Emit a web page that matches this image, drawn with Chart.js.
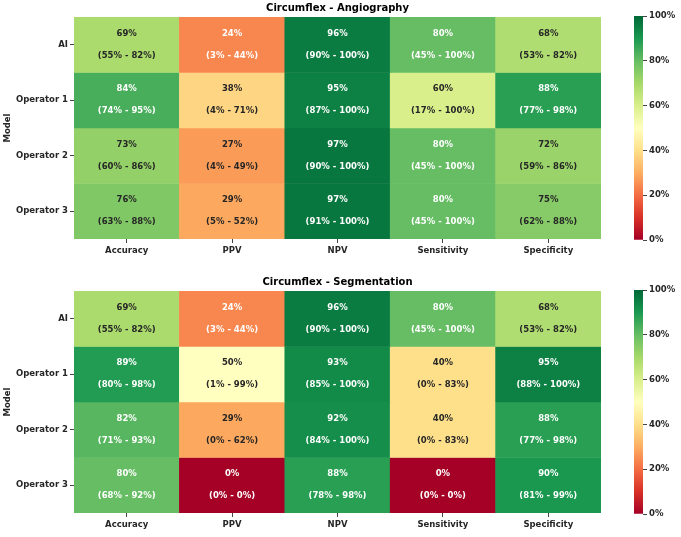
<!DOCTYPE html>
<html>
<head>
<meta charset="utf-8">
<script src="https://cdn.jsdelivr.net/npm/chart.js@4.4.0/dist/chart.umd.min.js"></script>
<style>
body { margin: 0; background: #fff; width: 681px; height: 537px; position: relative; overflow: hidden; }
canvas { position: absolute; }
</style>
</head>
<body>
<canvas id="angio" width="605" height="262" style="left:0;top:0"></canvas>
<canvas id="angioBar" width="51" height="262" style="left:630px;top:0"></canvas>
<canvas id="seg" width="605" height="262" style="left:0;top:274px"></canvas>
<canvas id="segBar" width="51" height="262" style="left:630px;top:274px"></canvas>
<script>
const metrics = ['Accuracy', 'PPV', 'NPV', 'Sensitivity', 'Specificity'];
const models = ['AI', 'Operator 1', 'Operator 2', 'Operator 3'];

// Circumflex - Angiography (rows = models, cols = metrics)
const angioValues = [[69, 24, 96, 80, 68], [84, 38, 95, 60, 88], [73, 27, 97, 80, 72], [76, 29, 97, 80, 75]];
const angioLower = [[55, 3, 90, 45, 53], [74, 4, 87, 17, 77], [60, 4, 90, 45, 59], [63, 5, 91, 45, 62]];
const angioUpper = [[82, 44, 100, 100, 82], [95, 71, 100, 100, 98], [86, 49, 100, 100, 86], [88, 52, 100, 100, 88]];

// Circumflex - Segmentation
const segValues = [[69, 24, 96, 80, 68], [89, 50, 93, 40, 95], [82, 29, 92, 40, 88], [80, 0, 88, 0, 90]];
const segLower = [[55, 3, 90, 45, 53], [80, 1, 85, 0, 88], [71, 0, 84, 0, 77], [68, 0, 78, 0, 81]];
const segUpper = [[82, 44, 100, 100, 82], [98, 99, 100, 83, 100], [93, 62, 100, 83, 98], [92, 0, 98, 0, 99]];

const colorbarRange = [0, 100];
const colorbarTicks = [0, 20, 40, 60, 80, 100];

// matplotlib RdYlGn anchors
const rdylgn = ['#a50026', '#d73027', '#f46d43', '#fdae61', '#fee08b', '#ffffbf', '#d9ef8b', '#a6d96a', '#66bd63', '#1a9850', '#006837'];

function hexToRgb(h) {
    return [parseInt(h.slice(1, 3), 16), parseInt(h.slice(3, 5), 16), parseInt(h.slice(5, 7), 16)];
}

function cmap(t) {
    t = Math.max(0, Math.min(1, t));
    const pos = t * 10;
    const i = Math.min(9, Math.floor(pos));
    const f = pos - i;
    const a = hexToRgb(rdylgn[i]), b = hexToRgb(rdylgn[i + 1]);
    return a.map((c, k) => Math.round(c + (b[k] - c) * f));
}

function rgbStr(c) {
    return 'rgb(' + c.join(',') + ')';
}

function luminance(c) {
    const lin = c.map(v => {
        v = v / 255;
        return v <= 0.03928 ? v / 12.92 : Math.pow((v + 0.055) / 1.055, 2.4);
    });
    return 0.2126 * lin[0] + 0.7152 * lin[1] + 0.0722 * lin[2];
}

Chart.defaults.font.family = "'DejaVu Sans', sans-serif";
Chart.defaults.font.size = 8.5;
Chart.defaults.font.weight = 'bold';
Chart.defaults.color = '#262626';

const cellText = {
    id: 'cellText',
    afterDatasetsDraw(chart, args, opts) {
        const ctx = chart.ctx;
        ctx.save();
        ctx.font = "bold 8.5px 'DejaVu Sans', sans-serif";
        ctx.textAlign = 'center';
        ctx.textBaseline = 'middle';
        chart.data.datasets.forEach((ds, i) => {
            chart.getDatasetMeta(i).data.forEach((el, j) => {
                const v = opts.values[i][j];
                const cy = (el.y + el.base) / 2;
                ctx.fillStyle = luminance(cmap(v / 100)) > 0.408 ? '#262626' : '#ffffff';
                ctx.fillText(v + '%', el.x, cy - 11);
                ctx.fillText('(' + opts.lower[i][j] + '% - ' + opts.upper[i][j] + '%)', el.x, cy + 11);
            });
        });
        ctx.restore();
    }
};

function heatmap(id, title, values, lower, upper) {
    const datasets = models.map((m, i) => ({
        label: m,
        data: metrics.map(() => [i, i + 1]),
        backgroundColor: values[i].map(v => rgbStr(cmap(v / 100))),
        grouped: false,
        barPercentage: 1,
        categoryPercentage: 1,
        borderWidth: 0
    }));
    new Chart(document.getElementById(id), {
        type: 'bar',
        data: { labels: metrics, datasets: datasets },
        plugins: [cellText],
        options: {
            responsive: false,
            animation: false,
            layout: { padding: { right: 4 } },
            scales: {
                x: {
                    ticks: { padding: 3, autoSkip: false, maxRotation: 0 },
                    grid: { drawOnChartArea: false, offset: false, tickLength: 4, tickColor: '#444' },
                    border: { display: false },
                    afterFit: s => { s.height = 23; }
                },
                y: {
                    type: 'linear',
                    min: 0,
                    max: models.length,
                    reverse: true,
                    afterBuildTicks: s => { s.ticks = models.map((m, i) => ({ value: i + 0.5 })); },
                    ticks: { autoSkip: false, padding: 2, callback: v => models[Math.floor(v)] },
                    grid: { drawOnChartArea: false, tickLength: 4, tickColor: '#444' },
                    border: { display: false },
                    title: { display: true, text: 'Model', padding: { top: 3, bottom: 0 } },
                    afterFit: s => { s.width = 74; }
                }
            },
            plugins: {
                legend: { display: false },
                tooltip: { enabled: false },
                title: {
                    display: true,
                    text: title,
                    fullSize: false,
                    color: '#000',
                    font: { size: 10, weight: 'bold' },
                    padding: { top: 2, bottom: 3 }
                },
                cellText: { values: values, lower: lower, upper: upper }
            }
        }
    });
}

function colorbar(id) {
    new Chart(document.getElementById(id), {
        type: 'bar',
        data: {
            labels: [''],
            datasets: [{
                data: [colorbarRange],
                barPercentage: 1,
                categoryPercentage: 1,
                borderWidth: 0,
                backgroundColor: c => {
                    const area = c.chart.chartArea;
                    if (!area) return rdylgn[5];
                    const g = c.chart.ctx.createLinearGradient(0, area.bottom, 0, area.top);
                    rdylgn.forEach((col, k) => g.addColorStop(k / 10, col));
                    return g;
                }
            }]
        },
        options: {
            responsive: false,
            animation: false,
            layout: { padding: { left: 4, top: 16, bottom: 22 } },
            scales: {
                x: { display: false },
                y: {
                    position: 'right',
                    min: colorbarRange[0],
                    max: colorbarRange[1],
                    afterBuildTicks: s => { s.ticks = colorbarTicks.map(v => ({ value: v })); },
                    ticks: { padding: 2, callback: v => v + '%' },
                    grid: { drawOnChartArea: false, tickLength: 4, tickColor: '#444' },
                    border: { display: false },
                    afterFit: s => { s.width = 38; }
                }
            },
            plugins: { legend: { display: false }, tooltip: { enabled: false } }
        }
    });
}

heatmap('angio', 'Circumflex - Angiography', angioValues, angioLower, angioUpper);
colorbar('angioBar');
heatmap('seg', 'Circumflex - Segmentation', segValues, segLower, segUpper);
colorbar('segBar');
</script>
</body>
</html>
